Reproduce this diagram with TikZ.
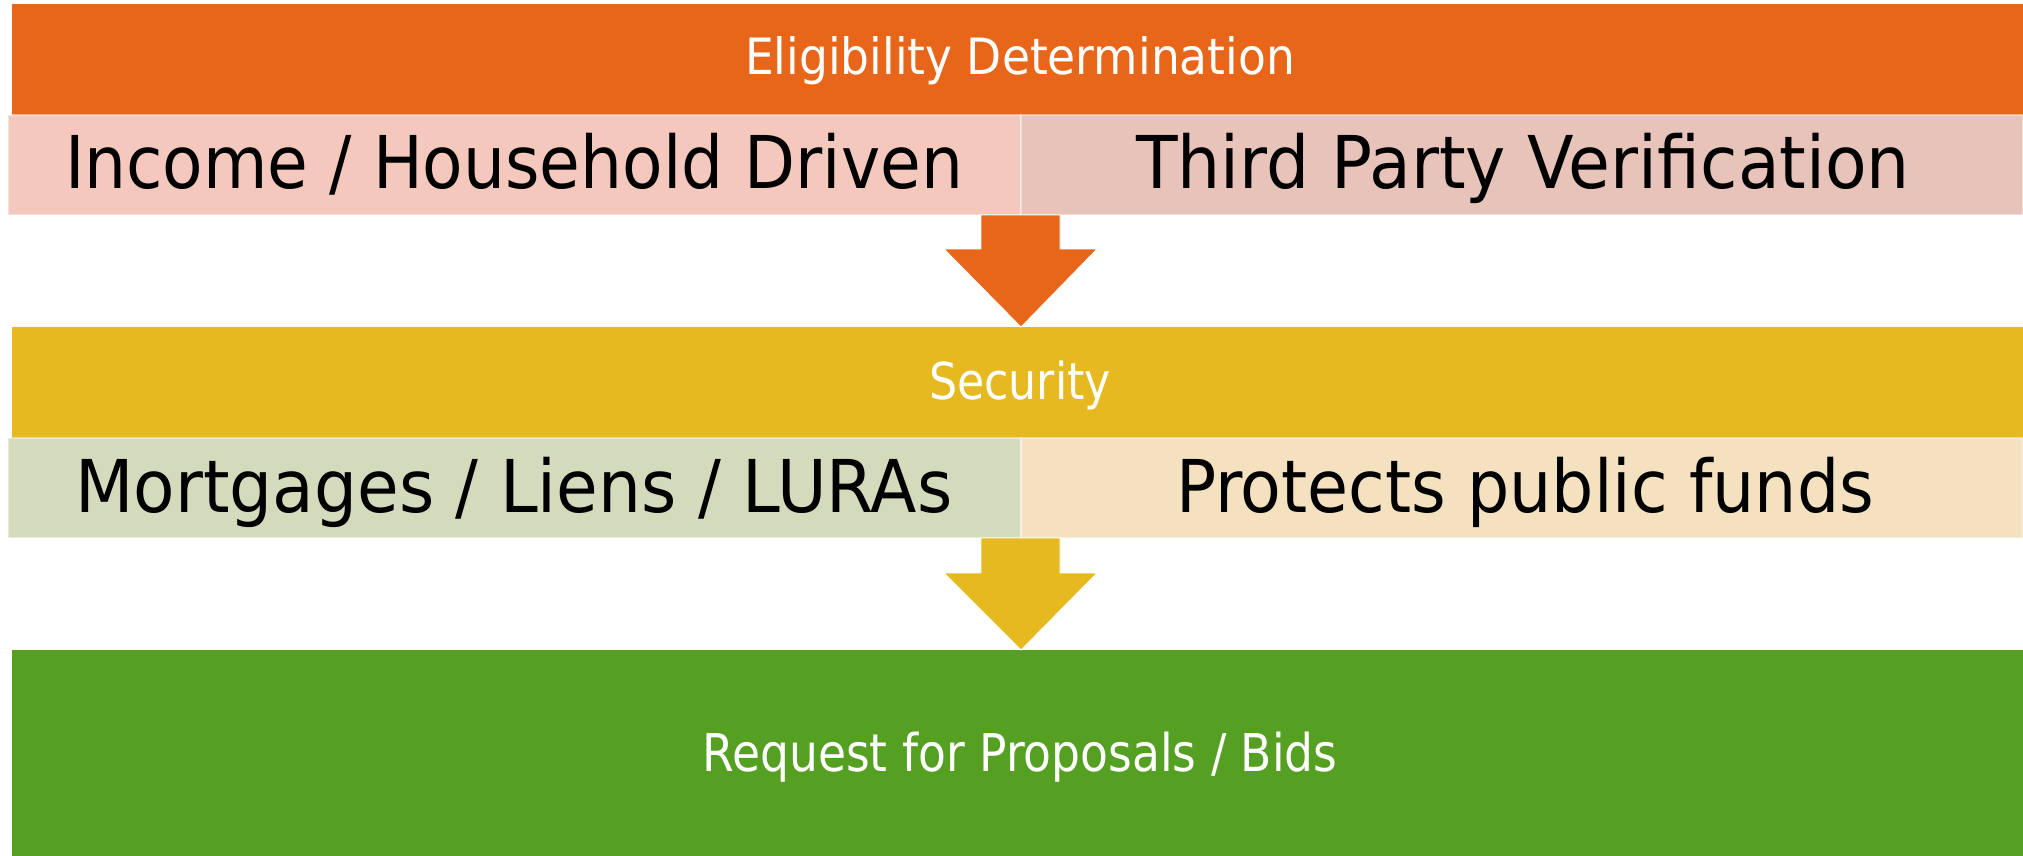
\documentclass[tikz,border=0pt]{standalone}
\usepackage{fontspec}
\setmainfont{DejaVu Sans}
\usepackage{graphicx}
\usetikzlibrary{calc}
\definecolor{orng}{HTML}{E8661A}
\definecolor{pinkL}{HTML}{F4C8BD}
\definecolor{pinkR}{HTML}{E8C3BA}
\definecolor{yell}{HTML}{E5B91F}
\definecolor{sage}{HTML}{D4DBBC}
\definecolor{beige}{HTML}{F3E1BF}
\definecolor{grn}{HTML}{55A022}
\newcommand{\fitw}[3]{\resizebox{#1}{\height}{\fontsize{#2}{#2}\selectfont #3}}
\begin{document}
\begin{tikzpicture}[x=0.5pt,y=-0.5pt,
  bar/.style={rectangle, inner sep=0pt, outer sep=0pt, anchor=north west, minimum width=1005.5pt},
  subbox/.style={rectangle, inner sep=0pt, outer sep=0pt, anchor=north west, minimum height=50pt, draw=white, draw opacity=0.45, line width=1pt},
  arrowshape/.style={draw=white, line width=0.4pt},
  lbl/.style={inner sep=0pt, outer sep=0pt, anchor=base},
  head/.style={lbl, text=white},
  big/.style={lbl, text=black}]
\useasboundingbox (0,0) rectangle (2023,856);
% bars
\node[bar, fill=orng, minimum height=55.5pt] (ed) at (12,4) {};
\node[subbox, fill=pinkL, minimum width=506.5pt] (inc) at (8,115) {};
\node[subbox, fill=pinkR, minimum width=501pt] (tpv) at (1021,115) {};
\node[bar, fill=yell, minimum height=55.5pt] (sec) at (12,327) {};
\node[subbox, fill=sage, minimum width=506.5pt] (mort) at (8,438) {};
\node[subbox, fill=beige, minimum width=501pt] (prot) at (1021,438) {};
\node[bar, fill=grn, minimum height=103pt] (rfp) at (12,650) {};
% arrows
\draw[arrowshape, fill=orng]
  ($(inc.south east)+(-40,0)$) -- ($(inc.south east)+(39,0)$) --
  ($(inc.south east)+(39,34)$) -- ($(inc.south east)+(76,34)$) --
  (inc.south east |- sec.north) --
  ($(inc.south east)+(-77,34)$) -- ($(inc.south east)+(-40,34)$) -- cycle;
\draw[arrowshape, fill=yell]
  ($(mort.south east)+(-40,0)$) -- ($(mort.south east)+(39,0)$) --
  ($(mort.south east)+(39,35)$) -- ($(mort.south east)+(76,35)$) --
  (mort.south east |- rfp.north) --
  ($(mort.south east)+(-77,35)$) -- ($(mort.south east)+(-40,35)$) -- cycle;
% texts
\node[head] (edt) at (1020,75) {\fitw{275pt}{25pt}{Eligibility Determination}};
\node[big] (inct) at (514,188) {\fitw{449pt}{36.4pt}{Income / Household Driven}};
\node[big] (tpvt) at (1523,188) {\fitw{387pt}{36.4pt}{Third Party Verification}};
\node[head] (sect) at (1020,399) {\fitw{91pt}{25.4pt}{Security}};
\node[big] (mortt) at (514,512) {\fitw{438.5pt}{36.4pt}{Mortgages / Liens / LURAs}};
\node[big] (prott) at (1525,512) {\fitw{349pt}{36.4pt}{Protects public funds}};
\node[head] (rfpt) at (1020,771) {\fitw{317.5pt}{26pt}{Request for Proposals / Bids}};
\end{tikzpicture}
\end{document}
